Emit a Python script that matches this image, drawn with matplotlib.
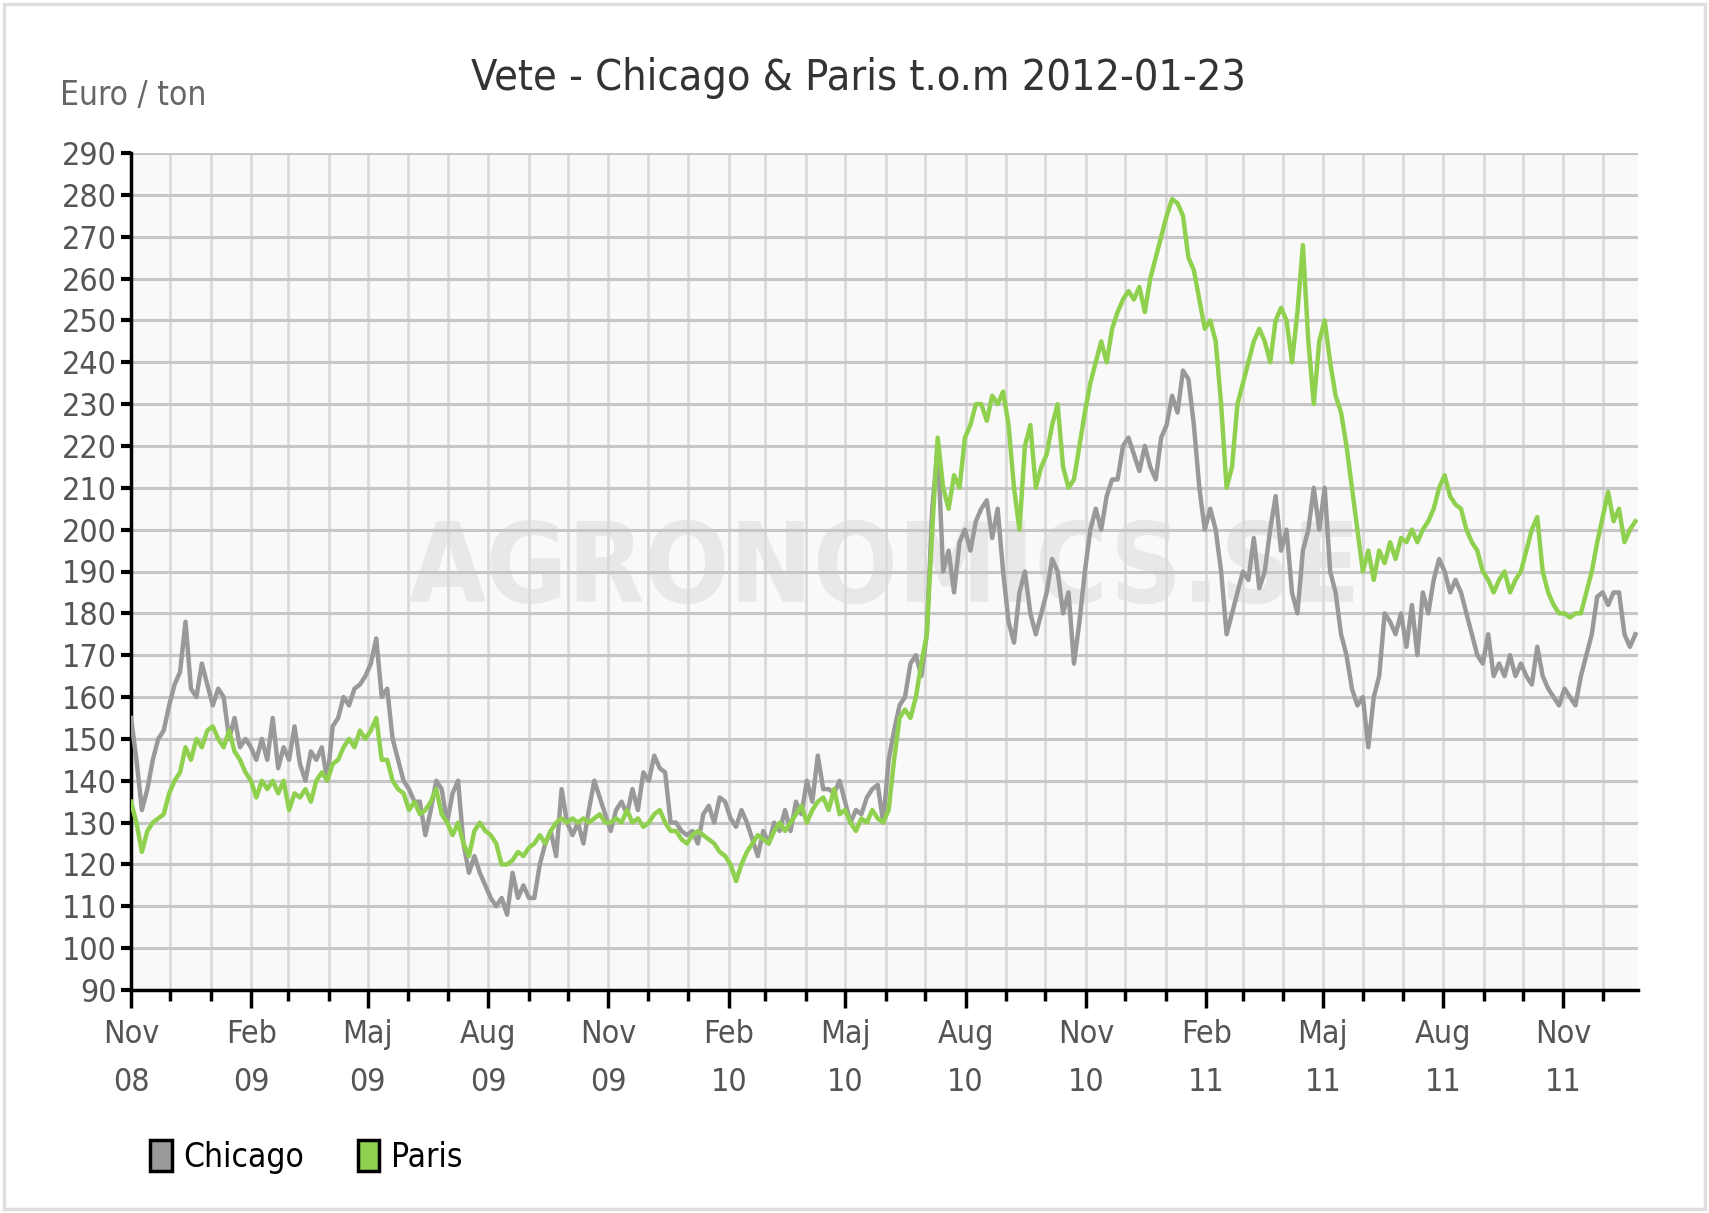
import pandas as pd
import matplotlib
matplotlib.use("Agg")
import matplotlib.pyplot as plt
import matplotlib.dates as mdates
from matplotlib.patches import Patch, Rectangle

plt.rcParams['font.family'] = ['DejaVu Sans']
plt.rcParams['font.stretch'] = 'condensed'

# Wheat prices, Euro / ton (roughly every 100 hours from 2008-11-01)
start_date = "2008-11-01"
step = "100h"

chicago = [
    155, 145, 133, 138, 145, 150, 152, 158, 163, 166, 178, 162,
    160, 168, 163, 158, 162, 160, 150, 155, 148, 150, 148, 145,
    150, 145, 155, 143, 148, 145, 153, 144, 140, 147, 145, 148,
    140, 153, 155, 160, 158, 162, 163, 165, 168, 174, 160, 162,
    150, 145, 140, 138, 135, 135, 127, 133, 140, 138, 130, 137,
    140, 125, 118, 122, 118, 115, 112, 110, 112, 108, 118, 112,
    115, 112, 112, 120, 125, 128, 122, 138, 130, 127, 130, 125,
    133, 140, 136, 132, 128, 133, 135, 132, 138, 133, 142, 140,
    146, 143, 142, 130, 130, 128, 127, 128, 125, 132, 134, 130,
    136, 135, 131, 129, 133, 130, 126, 122, 128, 125, 130, 128,
    133, 128, 135, 132, 140, 135, 146, 138, 138, 137, 140, 135,
    130, 133, 132, 136, 138, 139, 130, 145, 152, 158, 160, 168,
    170, 165, 175, 205, 220, 190, 195, 185, 197, 200, 195, 202,
    205, 207, 198, 205, 190, 178, 173, 185, 190, 180, 175, 180,
    185, 193, 190, 180, 185, 168, 178, 190, 200, 205, 200, 208,
    212, 212, 220, 222, 218, 214, 220, 215, 212, 222, 225, 232,
    228, 238, 236, 225, 210, 200, 205, 200, 190, 175, 180, 185,
    190, 188, 198, 186, 190, 200, 208, 195, 200, 185, 180, 195,
    200, 210, 200, 210, 190, 185, 175, 170, 162, 158, 160, 148,
    160, 165, 180, 178, 175, 180, 172, 182, 170, 185, 180, 188,
    193, 190, 185, 188, 185, 180, 175, 170, 168, 175, 165, 168,
    165, 170, 165, 168, 165, 163, 172, 165, 162, 160, 158, 162,
    160, 158, 165, 170, 175, 184, 185, 182, 185, 185, 175, 172,
    175,
]

paris = [
    135, 130, 123, 128, 130, 131, 132, 137, 140, 142, 148, 145,
    150, 148, 152, 153, 150, 148, 152, 147, 145, 142, 140, 136,
    140, 138, 140, 137, 140, 133, 137, 136, 138, 135, 140, 142,
    140, 144, 145, 148, 150, 148, 152, 150, 152, 155, 145, 145,
    140, 138, 137, 133, 135, 132, 133, 135, 138, 132, 130, 127,
    130, 125, 122, 128, 130, 128, 127, 125, 120, 120, 121, 123,
    122, 124, 125, 127, 125, 128, 130, 131, 130, 131, 130, 131,
    130, 131, 132, 130, 130, 131, 130, 133, 130, 131, 129, 130,
    132, 133, 130, 128, 128, 126, 125, 127, 128, 127, 126, 125,
    123, 122, 120, 116, 120, 123, 125, 127, 126, 125, 128, 130,
    128, 130, 132, 134, 130, 133, 135, 136, 133, 138, 132, 133,
    130, 128, 131, 130, 133, 131, 130, 133, 145, 155, 157, 155,
    160, 168, 175, 200, 222, 210, 205, 213, 210, 222, 225, 230,
    230, 226, 232, 230, 233, 225, 210, 200, 220, 225, 210, 215,
    218, 225, 230, 215, 210, 212, 220, 228, 235, 240, 245, 240,
    248, 252, 255, 257, 255, 258, 252, 260, 265, 270, 275, 279,
    278, 275, 265, 262, 255, 248, 250, 245, 230, 210, 215, 230,
    235, 240, 245, 248, 245, 240, 250, 253, 250, 240, 252, 268,
    245, 230, 245, 250, 240, 232, 228, 220, 210, 200, 190, 195,
    188, 195, 192, 197, 193, 198, 197, 200, 197, 200, 202, 205,
    210, 213, 208, 206, 205, 200, 197, 195, 190, 188, 185, 188,
    190, 185, 188, 190, 195, 200, 203, 190, 185, 182, 180, 180,
    179, 180, 180, 185, 190, 197, 203, 209, 202, 205, 197, 200,
    202,
]

tick_dates = ["2008-11-01", "2009-02-01", "2009-05-01", "2009-08-01", "2009-11-01",
              "2010-02-01", "2010-05-01", "2010-08-01", "2010-11-01", "2011-02-01",
              "2011-05-01", "2011-08-01", "2011-11-01"]
tick_labels = ["Nov\n08", "Feb\n09", "Maj\n09", "Aug\n09", "Nov\n09", "Feb\n10", "Maj\n10",
               "Aug\n10", "Nov\n10", "Feb\n11", "Maj\n11", "Aug\n11", "Nov\n11"]

dates = pd.date_range(start_date, periods=len(chicago), freq=step)

W, H = 1709, 1213
fig = plt.figure(figsize=(W / 100, H / 100), dpi=100)
ax = fig.add_axes([131 / W, 1 - 990 / H, (1638 - 131) / W, (990 - 153) / H])
ax.set_facecolor('#f9f9f9')

# outer frame
fig.patches.append(Rectangle((4 / W, 4 / H), (W - 8) / W, (H - 8) / H, transform=fig.transFigure,
                             fill=False, edgecolor='#dedede', linewidth=2.5))

ax.text(0.5, 0.5, "AGRONOMICS.SE", transform=ax.transAxes, ha='center', va='center',
        fontsize=80, fontweight='bold', color='#e8e8e8', zorder=0)

ax.plot(dates, chicago, color='#999999', linewidth=3.2, zorder=3, label='Chicago')
ax.plot(dates, paris, color='#8fd14f', linewidth=3.2, zorder=4, label='Paris')

ax.set_ylim(90, 290)
ax.set_yticks(range(90, 291, 10))
ax.set_xlim(pd.Timestamp("2008-11-01"), pd.Timestamp("2011-12-28"))
ax.set_xticks(pd.to_datetime(tick_dates))
ax.set_xticklabels(tick_labels, linespacing=1.7)
ax.xaxis.set_minor_locator(mdates.MonthLocator())

ax.grid(axis='y', color='#c6c6c6', linewidth=2.2, zorder=1)
ax.grid(axis='x', which='both', color='#dadada', linewidth=2, zorder=1)
ax.set_axisbelow(True)

for s in ['top', 'right']:
    ax.spines[s].set_visible(False)
for s in ['left', 'bottom']:
    ax.spines[s].set_linewidth(2.5)
    ax.spines[s].set_color('black')

ax.tick_params(axis='y', length=7, width=3, labelsize=23, labelcolor='#555555', pad=3)
ax.tick_params(axis='x', which='major', length=13, width=2.5, labelsize=23,
               labelcolor='#555555', pad=8)
ax.tick_params(axis='x', which='minor', length=8, width=2.5)

fig.text(859 / W, 1 - 78 / H, "Vete - Chicago & Paris t.o.m 2012-01-23", ha='center', va='center',
         fontsize=31, color='#333333')
fig.text(60 / W, 1 - 96 / H, "Euro / ton", ha='left', va='center', fontsize=24, color='#666666')

handles = [Patch(facecolor='#999999', edgecolor='black', linewidth=2.5, label='Chicago'),
           Patch(facecolor='#8fd14f', edgecolor='black', linewidth=2.5, label='Paris')]
fig.legend(handles=handles, loc='center left', bbox_to_anchor=(150 / W, 1 - 1157 / H), ncol=2,
           frameon=False, fontsize=24, handlelength=0.65, handleheight=1.05, handletextpad=0.35,
           columnspacing=1.6, borderpad=0, borderaxespad=0)

fig.savefig("out.png", dpi=100)
